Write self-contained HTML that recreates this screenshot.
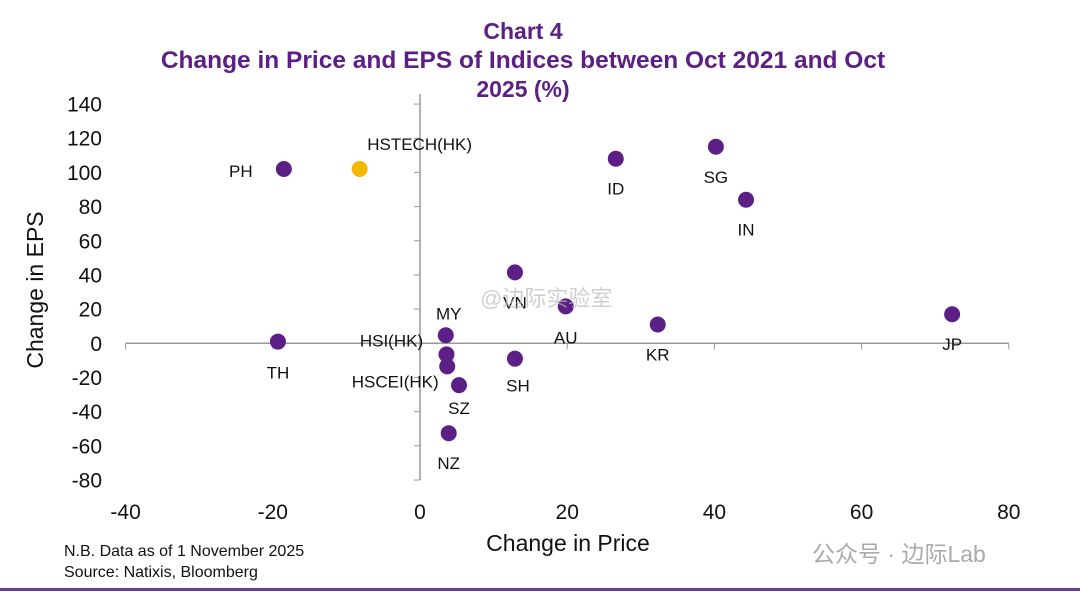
<!DOCTYPE html>
<html><head><meta charset="utf-8"><style>
body{margin:0;background:#fff;width:1080px;height:597px;overflow:hidden;font-family:"Liberation Sans","Noto Sans CJK SC",sans-serif}
svg text{font-family:"Liberation Sans","Noto Sans CJK SC",sans-serif}
</style></head><body>
<svg width="1080" height="597">
<text x="523" y="39" text-anchor="middle" font-size="23" font-weight="bold" fill="#5b1f86">Chart 4</text>
<text x="523" y="68" text-anchor="middle" font-size="24.5" font-weight="bold" fill="#5b1f86">Change in Price and EPS of Indices between Oct 2021 and Oct</text>
<text x="523" y="97" text-anchor="middle" font-size="23" font-weight="bold" fill="#5b1f86">2025 (%)</text>
<g id="axes"></g>
<g id="marks"></g>
<text x="568" y="551" text-anchor="middle" font-size="23" fill="#111">Change in Price</text>
<text transform="translate(43,290) rotate(-90)" text-anchor="middle" font-size="23" fill="#111">Change in EPS</text>
<text x="64" y="556" font-size="16" fill="#111">N.B. Data as of 1 November 2025</text>
<text x="64" y="577" font-size="16" fill="#111">Source: Natixis, Bloomberg</text>
<text x="812" y="562" font-size="23" fill="#aaa">公众号 · 边际Lab</text>
<text x="480" y="306" font-size="22" fill="#bbb" opacity="0.7">@边际实验室</text>
<rect x="0" y="588" width="1080" height="3" fill="#6a3a96"/>
</svg>
<script>
const names=["PH","HSTECH(HK)","ID","SG","IN","VN","AU","MY","KR","JP","TH","HSI(HK)","HSCEI(HK)","SH","SZ","NZ"];
const priceChg=[-18.5,-8.2,26.6,40.2,44.3,12.9,19.8,3.5,32.3,72.3,-19.3,3.6,3.7,12.9,5.3,3.9];
const epsChg=[102,102,108,115,84,41.5,21.6,4.7,11,17,1,-6.5,-13.5,-9,-24.5,-52.6];
const xTicks=[-40,-20,0,20,40,60,80];
const yTicks=[140,120,100,80,60,40,20,0,-20,-40,-60,-80];
const labelOff=[[-43,8],[60,-19],[0,36],[0,36],[0,36],[0,36],[0,37],[3,-16],[0,36],[0,36],[0,37],[-55,-8],[-52,21],[3,33],[0,29],[0,36]];
const colors=["#5b1f86","#f5b800"];
const X=v=>420+v*7.36, Y=v=>343.3-v*1.709;
const ns="http://www.w3.org/2000/svg";
const ax=document.getElementById('axes'), mk=document.getElementById('marks');
function el(t,a,p){const e=document.createElementNS(ns,t);for(const k in a)e.setAttribute(k,a[k]);p.appendChild(e);return e;}
let l=el('line',{x1:X(-40),x2:X(80),y1:Y(0),y2:Y(0),stroke:'#999','stroke-width':1.5},ax);


l=el('line',{x1:X(0),x2:X(0),y1:Y(146),y2:Y(-80),stroke:'#999','stroke-width':1.5},ax);


xTicks.forEach(v=>{
 const tk=el('line',{x1:X(v),x2:X(v),y1:Y(0),y2:Y(0)+6,stroke:'#999'},ax);
 
 
 const t=el('text',{x:X(v),y:519,'text-anchor':'middle','font-size':21,fill:'#111'},ax);t.textContent=v;
 
 
});
yTicks.forEach(v=>{
 const tk=el('line',{x1:X(0)-6,x2:X(0),y1:Y(v),y2:Y(v),stroke:'#999'},ax);
 
 
 const t=el('text',{x:102,y:Y(v)+7.5,'text-anchor':'end','font-size':21,fill:'#111'},ax);t.textContent=v;
 
 
});
names.forEach((n,i)=>{
 const c=el('circle',{cx:X(priceChg[i]),cy:Y(epsChg[i]),r:8,fill:n==="HSTECH(HK)"?colors[1]:colors[0]},mk);
 
 
 const t=el('text',{x:X(priceChg[i])+labelOff[i][0],y:Y(epsChg[i])+labelOff[i][1],'text-anchor':'middle','font-size':17,fill:'#111'},mk);t.textContent=n;
 
 
});
</script>
</body></html>
